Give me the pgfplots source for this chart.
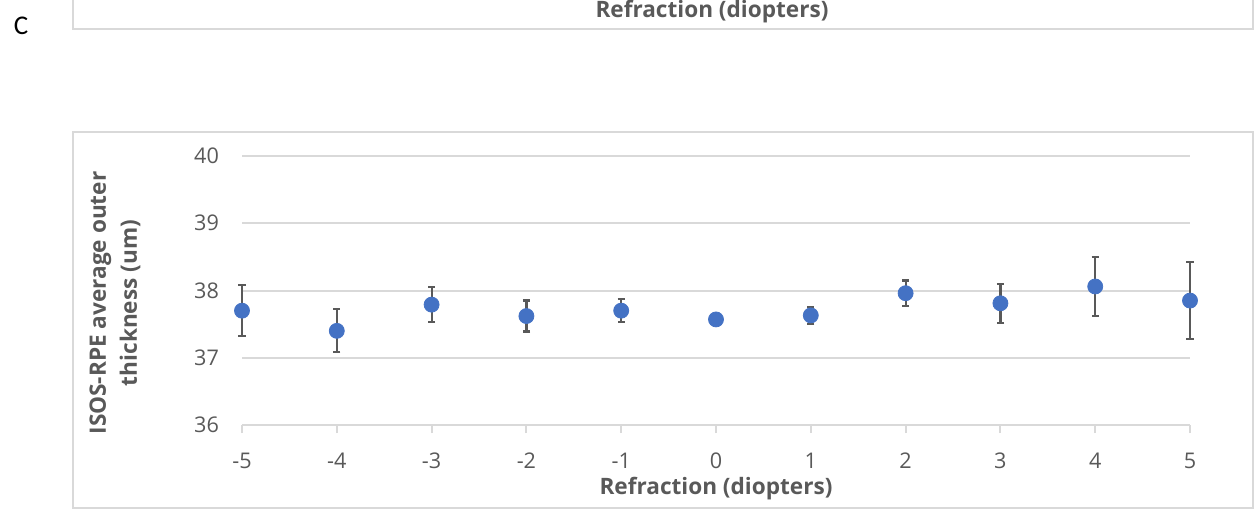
\documentclass[border=0pt]{standalone}
\usepackage{fontspec}
\setmainfont{Open Sans}
\newfontfamily\calibri{Carlito}
\usepackage{pgfplots}
\pgfplotsset{compat=1.18}
\usepackage{pgfplotstable}
\definecolor{gridgray}{HTML}{D9D9D9}
\definecolor{txtgray}{HTML}{595959}
\definecolor{markblue}{HTML}{4472C4}
\pgfplotstableread{
x y err
-5 37.70 0.38
-4 37.40 0.32
-3 37.79 0.26
-2 37.62 0.23
-1 37.70 0.17
0 37.57 0.00
1 37.63 0.13
2 37.96 0.19
3 37.81 0.29
4 38.06 0.44
5 37.85 0.57
}\datatable
\begin{document}
\begin{tikzpicture}
\path[use as bounding box] (0pt,0pt) rectangle (628pt,-259pt);
% previous chart box (partial)
\draw[gridgray, line width=0.9pt] (36.5pt,2pt) -- (36.5pt,-14.5pt) -- (626.5pt,-14.5pt) -- (626.5pt,2pt);
\node[font=\bfseries\fontsize{11.3}{13}\selectfont, text=txtgray] at (356pt,-6pt) {Refraction (diopters)};
\node[font=\calibri\fontsize{13.5}{15}\selectfont] at (10.5pt,-13pt) {C};
% main chart box
\draw[gridgray, line width=0.9pt] (36.5pt,-66pt) rectangle (626.5pt,-254pt);
\begin{axis}[
  scale only axis,
  width=474pt, height=134.5pt,
  at={(121pt,-212.5pt)}, anchor=south west,
  xmin=-5, xmax=5, ymin=36, ymax=40,
  xtick={-5,...,5}, ytick={36,37,38,39,40},
  clip=false,
  axis line style={draw=none},
  ymajorgrids, grid style={gridgray, line width=1pt},
  xtick pos=bottom, ytick pos=left,
  tick align=outside,
  x tick style={gridgray, line width=1pt},
  y tick style={draw=none},
  major tick length=4pt,
  /pgf/number format/assume math mode=true,
  ticklabel style={font=\fontsize{10.8}{12}\selectfont, text=txtgray},
  yticklabel style={anchor=east, xshift=-4pt},
  xticklabel style={anchor=base, yshift=-17.5pt},
  xlabel={Refraction (diopters)},
  xlabel style={font=\bfseries\fontsize{11.3}{13}\selectfont, text=txtgray, at={(rel axis cs:0.5,-0.26)}, anchor=base},
  ylabel={ISOS-RPE average outer\\thickness (um)},
  ylabel style={font=\bfseries\fontsize{11.3}{15.5}\selectfont, text=txtgray, align=center, at={(rel axis cs:-0.134,0.4535)}, anchor=center},
]
\addplot[only marks, mark=none, error bars/.cd, y dir=both, y explicit,
  error bar style={draw=txtgray, line width=1.1pt},
  error mark options={rotate=90, mark size=1.8pt, line width=1.1pt, draw=txtgray}]
  table[x=x, y=y, y error=err] {\datatable};
\addplot[only marks, mark=*, mark size=3.75pt, mark options={fill=markblue, draw=markblue}]
  table[x=x, y=y] {\datatable};
\end{axis}
\end{tikzpicture}
\end{document}
